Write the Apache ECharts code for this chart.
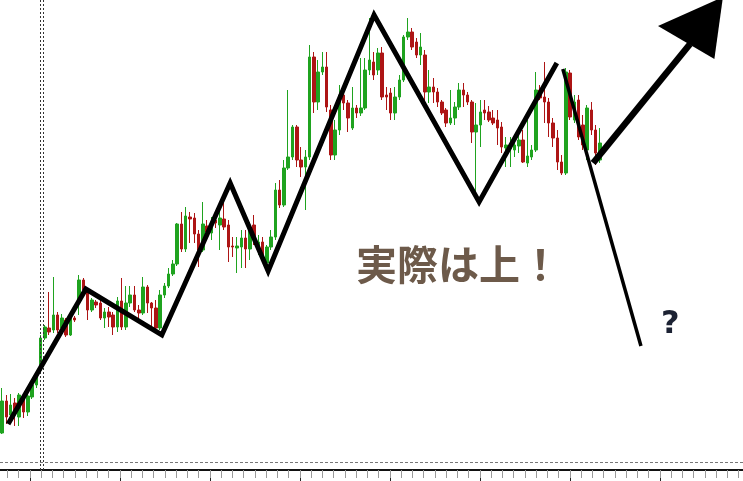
<!DOCTYPE html>
<html><head><meta charset="utf-8">
<script src="https://cdn.jsdelivr.net/npm/echarts@6/dist/echarts.min.js"></script>
<style>html,body{margin:0;padding:0;background:#fff}#c{width:743px;height:481px}</style>
</head><body><div id="c"></div>
<script>
// bar slots (candles occupy the first 141, the rest is empty future space)
const categories = Array.from({length: 174}, (_, i) => 'bar' + i);

const openP = [
 37,69,55,67,53,71,58,73,85,100,
 132,142,140,155,142,150,135,152,168,190,
 180,160,168,167,152,158,155,143,169,143,
 167,175,160,157,183,167,162,142,175,184,
 196,206,246,221,253,252,236,220,244,237,
 250,245,251,245,224,222,223,232,221,245,
 222,228,207,223,233,280,265,302,313,343,
 310,303,313,413,368,398,403,360,315,340,
 375,367,342,362,357,362,400,408,400,417,
 375,377,357,373,390,433,438,428,415,415,
 378,383,378,368,360,347,352,363,380,375,
 368,338,345,360,358,352,350,343,322,321,
 320,324,330,307,313,320,380,373,368,347,
 332,308,297,397,350,370,345,320,360,340,310];
const closeP = [
 69,53,65,59,75,58,74,85,93,132,
 143,138,155,140,152,135,152,150,190,180,
 160,170,165,152,158,153,143,169,143,167,
 175,160,157,183,167,162,142,175,184,196,
 206,246,221,254,251,236,220,246,238,248,
 247,252,243,223,223,224,232,221,240,231,
 228,213,223,233,280,265,302,313,343,310,
 303,313,413,368,398,403,363,315,340,375,
 367,352,362,357,362,400,410,395,417,373,
 373,357,373,390,433,438,423,415,423,378,
 383,378,368,357,347,352,363,380,375,368,
 338,345,358,357,350,347,342,323,325,324,
 325,330,308,314,320,380,372,368,347,332,
 308,297,398,353,368,333,325,362,340,317,327];
const lowP = [
 36,46,50,44,44,52,54,71,82,98,
 130,135,137,137,138,133,134,148,155,178,
 150,158,162,150,142,143,135,138,140,140,
 163,158,152,155,157,143,140,140,172,182,
 194,204,218,218,227,227,203,218,232,230,
 242,220,240,208,213,197,202,202,210,225,
 215,208,198,220,230,262,263,300,310,303,
 293,260,310,357,360,395,358,310,310,335,
 360,338,340,352,354,360,395,390,395,370,
 360,350,350,370,388,430,420,412,405,367,
 367,367,363,355,343,345,345,360,363,365,
 327,277,323,350,348,345,325,317,303,303,
 313,317,307,303,310,318,370,347,333,323,
 300,295,295,350,347,330,320,310,335,305,307];
const highP = [
 82,75,76,72,77,74,76,88,98,135,
 145,178,193,158,156,152,154,154,195,192,
 182,172,170,170,162,163,158,173,192,184,
 184,184,165,193,185,168,170,180,187,202,
 210,247,258,263,258,257,240,268,250,253,
 255,260,273,250,233,233,240,240,248,255,
 235,233,225,240,287,290,310,380,345,345,
 323,320,425,418,410,418,418,365,350,385,
 385,370,383,365,412,412,452,418,422,423,
 383,382,383,395,435,452,442,432,437,420,
 400,392,382,370,362,380,368,387,387,378,
 370,367,370,370,364,360,360,348,333,333,
 333,337,340,350,325,398,385,408,372,352,
 340,315,402,400,375,375,355,365,368,345,342];

// annotation drawing (bar index, price)
const zigzagX = [1.4, 19.6, 37.4, 53.4, 62.3, 87.1, 111.7, 129.9];
const zigzagY = [46, 181, 135, 287, 199, 455, 268, 407];
const questionX = [131.3, 149.6];
const questionY = [401, 124];
const arrowX = [138.4, 161.1];
const arrowY = [307, 426];
const arrowHeadX = [153.6, 168.8, 166.8];
const arrowHeadY = [444, 473, 411];
const separatorX = [8.9, 9.7];
const baseLevel = [8];

// time-axis ticks (in minor-step units)
const majorTicks = [0, 8, 16, 24, 32, 40, 48, 56];
const minorTicks = [-2,-1,0,1,2,3,4,5,6,7,8,9,10,11,12,13,14,15,16,17,18,19,20,21,22,23,24,25,26,27,28,29,30,31,32,33,34,35,36,37,38,39,40,41,42,43,44,45,46,47,48,49,50,51,52,53,54,55,56,57,58,59,60,61,62,63];

const mainText = '実際は上！';
const questionText = '?';

const candleData = openP.map((o, i) => [o, closeP[i], lowP[i], highP[i]]);
const pairs = (xs, ys) => xs.map((x, i) => [x, ys[i]]);

const GREEN = '#1fa31f', RED = '#ad1515';
const chart = echarts.init(document.getElementById('c'), null, {renderer: 'canvas'});
chart.setOption({
  animation: false,
  backgroundColor: '#fff',
  grid: {left: 0, right: 0, top: 0, bottom: 11, containLabel: false},
  xAxis: [
    {type: 'category', data: categories, boundaryGap: true, show: false},
    {type: 'value', min: -0.5, max: 173.5, show: false},
    {type: 'value', min: -8/3, max: 63.38, position: 'bottom',
     axisLine: {show: true, lineStyle: {color: '#111', width: 2}},
     axisTick: {show: true, customValues: majorTicks, length: 11, lineStyle: {color: '#222', width: 1}},
     axisLabel: {show: false}, splitLine: {show: false}},
    {type: 'value', min: -8/3, max: 63.38, position: 'bottom',
     axisLine: {show: false},
     axisTick: {show: true, customValues: minorTicks, length: 8, lineStyle: {color: '#999', width: 1}},
     axisLabel: {show: false}, splitLine: {show: false}}
  ],
  yAxis: {type: 'value', min: 0, max: 470, show: false},
  graphic: [
    {type: 'text', left: 356, top: 244, z: 100,
     style: {text: mainText, font: 'bold 41px "Noto Sans CJK JP"', fill: '#6d5a4a'}},
    {type: 'text', left: 661, top: 309, z: 100,
     style: {text: questionText, font: 'bold 32px "DejaVu Sans"', fill: '#1c2233'}}
  ],
  series: [
    {type: 'candlestick', xAxisIndex: 0, yAxisIndex: 0, data: candleData,
     barWidth: 3, z: 2,
     itemStyle: {color: GREEN, color0: RED, borderColor: GREEN, borderColor0: RED, borderWidth: 1}},
    {type: 'line', xAxisIndex: 1, yAxisIndex: 0, data: pairs(zigzagX, zigzagY),
     showSymbol: false, symbol: 'none', z: 5,
     lineStyle: {color: '#000', width: 5, join: 'miter'},
     markLine: {silent: true, symbol: 'none', label: {show: false},
       data: [
         {xAxis: separatorX[0], lineStyle: {type: [2, 2], color: '#333', width: 1}},
         {xAxis: separatorX[1], lineStyle: {type: [2, 2], color: '#333', width: 1}},
         {yAxis: baseLevel[0], lineStyle: {type: [3, 2], color: '#777', width: 1}}
       ]}},
    {type: 'line', xAxisIndex: 1, yAxisIndex: 0, data: pairs(questionX, questionY),
     showSymbol: false, symbol: 'none', z: 5, lineStyle: {color: '#000', width: 3.5}},
    {type: 'line', xAxisIndex: 1, yAxisIndex: 0, data: pairs(arrowX, arrowY),
     showSymbol: false, symbol: 'none', z: 5, clip: false, lineStyle: {color: '#000', width: 6.5}},
    {type: 'custom', xAxisIndex: 1, yAxisIndex: 0, clip: false, z: 6,
     data: [[arrowHeadX[0], arrowHeadY[0], arrowHeadX[1], arrowHeadY[1], arrowHeadX[2], arrowHeadY[2]]],
     encode: {x: [0, 2, 4], y: [1, 3, 5]},
     renderItem: function (params, api) {
       const pts = [0, 1, 2].map(k => api.coord([api.value(2 * k), api.value(2 * k + 1)]));
       return {type: 'polygon', shape: {points: pts}, style: {fill: '#000'}};
     }}
  ]
});
</script></body></html>
